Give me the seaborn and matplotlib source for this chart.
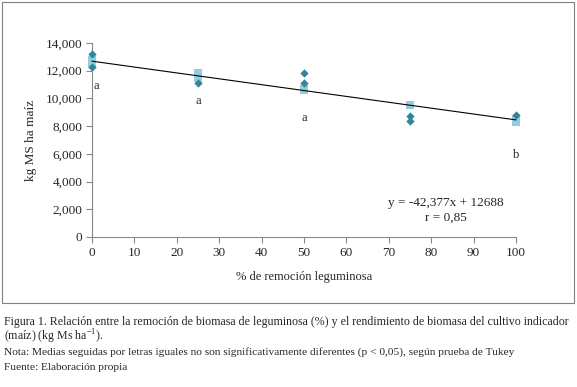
import numpy as np
import pandas as pd
import matplotlib
matplotlib.use("Agg")
import matplotlib.pyplot as plt
import seaborn as sns
from matplotlib import ticker
from matplotlib.patches import Rectangle

# ----------------------------------------------
# data
remocion_rombo = [0, 0, 25, 50, 50, 75, 75, 100]
biomasa_rombo = [13200, 12300, 11100, 11800, 11100, 8700, 8400, 8800]

remocion_cuadro = [0, 0, 25, 25, 50, 50, 75, 100, 100]
biomasa_cuadro = [12500, 12800, 11800, 11500, 10700, 10600, 9500, 8500, 8300]

letras = ["a", "a", "a", "b"]
letras_x = [0, 25, 50, 100]
letras_y = [10900, 9800, 8600, 5900]

pendiente = -42.377
intercepto = 12688
r_valor = "0,85"
# ----------------------------------------------

sns.set_style("white")
plt.rcParams['font.family'] = ['Liberation Serif', 'DejaVu Serif']
plt.rcParams['mathtext.fontset'] = 'custom'
plt.rcParams['mathtext.rm'] = 'Liberation Serif'

fig = plt.figure(figsize=(5.77, 3.87), dpi=100)
ax = fig.add_axes([0.1594, 0.3876, 0.7348, 0.5013])

c_rombo = "#31859C"
c_cuadro = "#93CDDD"

df_c = pd.DataFrame({'x': remocion_cuadro, 'y': biomasa_cuadro})
df_r = pd.DataFrame({'x': remocion_rombo, 'y': biomasa_rombo})

sns.scatterplot(data=df_c, x='x', y='y', marker='s', s=38, color=c_cuadro,
                edgecolor=c_cuadro, linewidth=0, ax=ax, zorder=3, clip_on=False)
sns.scatterplot(data=df_r, x='x', y='y', marker='D', s=18, color=c_rombo,
                edgecolor=c_rombo, linewidth=0, ax=ax, zorder=4, clip_on=False)

xs = np.array([0, 100])
ax.plot(xs, pendiente * xs + intercepto, color='black', linewidth=0.8,
        zorder=5, clip_on=False)

for lx, ly, lt in zip(letras_x, letras_y, letras):
    ax.text(max(lx, 1), ly, lt, fontsize=9, ha='center', va='center')

ax.text(0.835, 0.175, "y = -42,377x + 12688", transform=ax.transAxes,
        ha='center', va='center', fontsize=9.5)
ax.text(0.835, 0.10, f"r = {r_valor}", transform=ax.transAxes,
        ha='center', va='center', fontsize=9.5)

ax.set_xlim(0, 100)
ax.set_ylim(0, 14000)
ax.xaxis.set_major_locator(ticker.MultipleLocator(10))
ax.yaxis.set_major_locator(ticker.MultipleLocator(2000))
ax.yaxis.set_major_formatter(ticker.FuncFormatter(lambda v, p: f"{int(v):,}"))
ax.tick_params(axis='both', direction='out', length=4, width=0.8,
               color='#888888', labelsize=9.5, pad=3,
               bottom=True, left=True)
for side in ['top', 'right']:
    ax.spines[side].set_visible(False)
for side in ['left', 'bottom']:
    ax.spines[side].set_color('#888888')
    ax.spines[side].set_linewidth(0.8)

ax.set_xlabel("% de remoción leguminosa", fontsize=9, labelpad=9)
ax.set_ylabel("kg MS ha maíz", fontsize=9.5, labelpad=6)

# marco del gráfico
fig.patches.append(Rectangle((2 / 577, 1 - 303 / 387), 572 / 577, 301 / 387,
                             transform=fig.transFigure, fill=False,
                             edgecolor='#808080', linewidth=0.8))

fig.text(4 / 577, 1 - 322 / 387,
         "Figura 1. Relación entre la remoción de biomasa de leguminosa (%) y el rendimiento de biomasa del cultivo indicador",
         fontsize=8.55, va='center', ha='left')
fig.text(4 / 577, 1 - 337 / 387,
         "(maíz) (kg Ms ha$^{\\mathrm{-1}}$).",
         fontsize=8.55, va='center', ha='left')
fig.text(4 / 577, 1 - 352 / 387,
         "Nota: Medias seguidas por letras iguales no son significativamente diferentes (p < 0,05), según prueba de Tukey",
         fontsize=8.2, va='center', ha='left')
fig.text(4 / 577, 1 - 367 / 387,
         "Fuente: Elaboración propia",
         fontsize=8.2, va='center', ha='left')

plt.savefig("out.png", dpi=100)
plt.close()
